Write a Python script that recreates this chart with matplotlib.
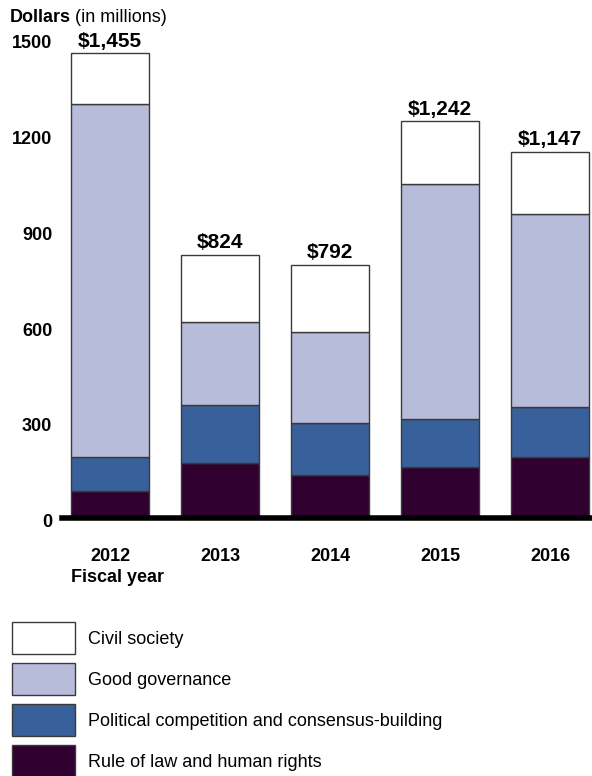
#!/usr/bin/env python3
import matplotlib
matplotlib.use('Agg')
import matplotlib.pyplot as plt
import matplotlib.transforms as mtransforms
from matplotlib.patches import Patch
import numpy as np

years = ['2012', '2013', '2014', '2015', '2016']
rule_of_law = [83, 170, 133, 157, 191]
political = [106, 183, 162, 151, 156]
governance = [1107, 259, 285, 737, 605]
civil = [159, 212, 212, 197, 195]
totals = ['$1,455', '$824', '$792', '$1,242', '$1,147']

yticks = [0, 300, 600, 900, 1200, 1500]

names = ['Rule of law and human rights',
         'Political competition and consensus-building',
         'Good governance',
         'Civil society']
colors = ['#300030', '#38619b', '#b7bcdb', '#ffffff']

plt.rcParams['font.family'] = ['Liberation Sans', 'DejaVu Sans']

W, H = 592, 776
fig = plt.figure(figsize=(W/100, H/100), dpi=100)

# axes placed in pixel terms: x axis line starts at 62px, zero at 517.5px
ax = fig.add_axes([62/W, (H-517.5)/H, 1 - 62/W, 478.5/H])
x = np.arange(len(years))
ax.set_xlim(-48/110, -48/110 + 530/110)
ax.set_ylim(0, 1500)

bottom = np.zeros(len(years))
series = [rule_of_law, political, governance, civil]
for vals, col, name in zip(series, colors, names):
    ax.bar(x, vals, width=0.718, bottom=bottom, color=col,
           edgecolor='#3a3a3a', linewidth=1.0, label=name, zorder=2)
    bottom += np.array(vals)

for xi, top, lab in zip(x, bottom, totals):
    ax.annotate(lab, (xi, top), xytext=(0, 2), textcoords='offset points',
                ha='center', va='bottom', fontsize=15, fontweight='bold')

for s in ['top', 'right', 'left']:
    ax.spines[s].set_visible(False)
ax.spines['bottom'].set_linewidth(4)
ax.spines['bottom'].set_zorder(3)

ax.set_yticks(yticks)
ax.set_yticklabels([str(v) for v in yticks], fontsize=13, fontweight='bold')
ax.tick_params(axis='y', length=0, pad=7)
# the reference sets the value labels a little below their gridline
shift = mtransforms.ScaledTranslation(0, -3/100, fig.dpi_scale_trans)
for lbl in ax.get_yticklabels():
    lbl.set_transform(lbl.get_transform() + shift)
ax.set_xticks(x)
ax.set_xticklabels(years, fontsize=13, fontweight='bold')
ax.tick_params(axis='x', length=0, pad=22)

fig.text(71/W, 1 - 577/H, 'Fiscal year', fontsize=13, fontweight='bold',
         ha='left', va='center')
t = fig.text(10/W, 1 - 17/H, 'Dollars', fontsize=13, fontweight='bold',
             ha='left', va='center')
fig.canvas.draw()
bb = t.get_window_extent()
fig.text((bb.x1 + 4)/W, 1 - 17/H, '(in millions)', fontsize=13,
         ha='left', va='center')

handles = [Patch(facecolor=c, edgecolor='#3a3a3a', linewidth=1.0)
           for c in colors[::-1]]
fig.legend(handles, names[::-1], loc='upper left',
           bbox_to_anchor=(12/W, 1 - 622/H), frameon=False, fontsize=13,
           handlelength=3.49, handleheight=2.35, labelspacing=0.5,
           handletextpad=0.72, borderpad=0, borderaxespad=0)

fig.savefig('out.png', dpi=100)
